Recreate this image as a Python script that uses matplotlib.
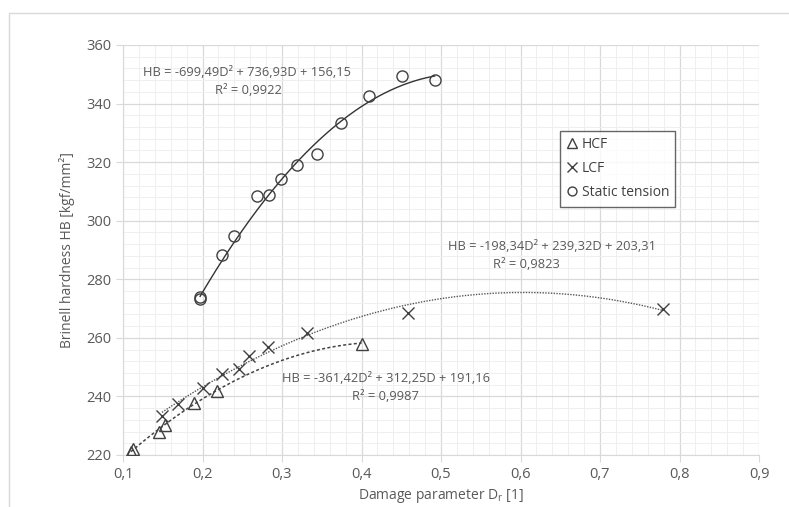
import numpy as np
import matplotlib
matplotlib.use("Agg")
import matplotlib.pyplot as plt
from matplotlib.patches import Rectangle
from matplotlib.ticker import MultipleLocator, FuncFormatter

plt.rcParams['font.family'] = ['Open Sans', 'DejaVu Sans']

# Data
hcf_d = [0.110, 0.113, 0.145, 0.153, 0.189, 0.218, 0.400]
hcf_hb = [220.9, 222.1, 227.8, 230.2, 237.7, 241.9, 257.9]

lcf_d = [0.149, 0.169, 0.200, 0.224, 0.246, 0.258, 0.282, 0.331, 0.459, 0.779]
lcf_hb = [233.3, 237.3, 242.8, 247.7, 249.4, 253.9, 257.0, 261.6, 268.4, 269.8]

st_d = [0.197, 0.197, 0.225, 0.239, 0.269, 0.284, 0.299, 0.319, 0.344, 0.374, 0.409, 0.451, 0.492]
st_hb = [273.2, 274.0, 288.2, 294.9, 308.3, 308.9, 314.1, 318.9, 322.8, 333.3, 342.5, 349.5, 348.0]

# Trendline coefficients (as printed on chart)
st_coef = [-699.49, 736.93, 156.15]
lcf_coef = [-198.34, 239.32, 203.31]
hcf_coef = [-361.42, 312.25, 191.16]

st_eq = ["HB = -699,49D² + 736,93D + 156,15", "R² = 0,9922"]
lcf_eq = ["HB = -198,34D² + 239,32D + 203,31", "R² = 0,9823"]
hcf_eq = ["HB = -361,42D² + 312,25D + 191,16", "R² = 0,9987"]

W, H = 789, 507
fig = plt.figure(figsize=(W / 100, H / 100), dpi=100)
fig.patches.append(Rectangle((9 / W, -0.1), 1.1, (H - 13) / H + 0.1, transform=fig.transFigure,
                             fill=False, edgecolor='#d9d9d9', linewidth=1))
ax = fig.add_axes([123 / W, (H - 455) / H, (759 - 123) / W, (455 - 45) / H])

ax.set_xlim(0.1, 0.9)
ax.set_ylim(220, 360)
ax.xaxis.set_major_locator(MultipleLocator(0.1))
ax.xaxis.set_minor_locator(MultipleLocator(0.02))
ax.yaxis.set_major_locator(MultipleLocator(20))
ax.yaxis.set_minor_locator(MultipleLocator(4))
ax.xaxis.set_major_formatter(FuncFormatter(lambda v, p: f"{v:.1f}".replace('.', ',')))
ax.grid(which='major', color='#d9d9d9', linewidth=0.9)
ax.grid(which='minor', color='#efefef', linewidth=0.7)
ax.set_axisbelow(True)
for s in ['top', 'right']:
    ax.spines[s].set_visible(False)
for s in ['left', 'bottom']:
    ax.spines[s].set_color('#d9d9d9')
ax.tick_params(which='major', length=5, color='#d9d9d9', labelsize=10.5, labelcolor='#595959')
ax.tick_params(which='minor', length=0)

tc = '#595959'
# trendlines
d = np.linspace(min(st_d), max(st_d), 200)
ax.plot(d, np.polyval(st_coef, d), color='#333333', lw=1.0, zorder=2)
d = np.linspace(min(lcf_d), max(lcf_d), 300)
ax.plot(d, np.polyval(lcf_coef, d), color='#555555', lw=1.0, ls=(0, (1, 1)), zorder=2)
d = np.linspace(min(hcf_d), max(hcf_d), 200)
ax.plot(d, np.polyval(hcf_coef, d), color='#444444', lw=1.1, ls=(0, (2, 1.5)), zorder=2)

ax.plot(hcf_d, hcf_hb, ls='none', marker='^', ms=8.5, mfc='none', mec='#404040', mew=1.0, label='HCF', zorder=3)
ax.plot(lcf_d, lcf_hb, ls='none', marker='x', ms=9, mec='#404040', mew=1.0, label='LCF', zorder=3)
ax.plot(st_d, st_hb, ls='none', marker='o', ms=8, mfc='none', mec='#404040', mew=1.0, label='Static tension', zorder=3)

leg = ax.legend(loc='upper left', bbox_to_anchor=((560 - 123) / 636, (455 - 131) / 410),
                frameon=True, fancybox=False, edgecolor='#404040', fontsize=10,
                handlelength=0.8, handletextpad=0.3, borderpad=0.45, labelspacing=0.65,
                markerscale=0.8, borderaxespad=0)
leg.get_frame().set_linewidth(1.0)
for t in leg.get_texts():
    t.set_color('#404040')

def px(x, y):
    return ((x - 123) / 636 * 0.8 + 0.1, 360 - (y - 45) / 410 * 140)

fs = 9.3
ax.text(*px(247, 73), st_eq[0], ha='center', va='center', fontsize=fs, color=tc)
ax.text(*px(248, 90), st_eq[1], ha='center', va='center', fontsize=fs, color=tc)
ax.text(*px(552, 247), lcf_eq[0], ha='center', va='center', fontsize=fs, color=tc)
ax.text(*px(526, 265), lcf_eq[1], ha='center', va='center', fontsize=fs, color=tc)
ax.text(*px(386, 379), hcf_eq[0], ha='center', va='center', fontsize=fs, color=tc)
ax.text(*px(385, 397), hcf_eq[1], ha='center', va='center', fontsize=fs, color=tc)

ax.set_xlabel("Damage parameter D$_\\mathregular{r}$ [1]", fontsize=10, color=tc, labelpad=4)
ax.set_ylabel("Brinell hardness HB [kgf/mm²]", fontsize=10, color=tc, labelpad=8)

fig.savefig("out.png", dpi=100)
